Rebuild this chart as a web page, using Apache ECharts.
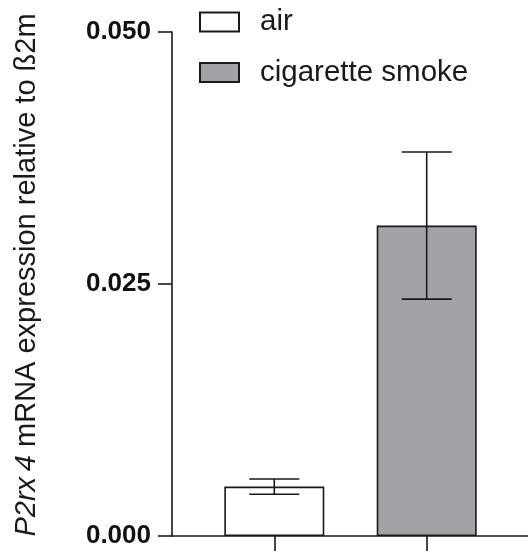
<!DOCTYPE html>
<html>
<head>
<meta charset="utf-8">
<script src="https://cdn.jsdelivr.net/npm/echarts@6/dist/echarts.min.js"></script>
<style>html,body{margin:0;padding:0;background:#fff}#c{width:528px;height:551px}</style>
</head>
<body>
<div id="c"></div>
<script>
var categories = ['air', 'cigarette smoke'];
var means = [0.0049, 0.0308];
var errors = [0.00076, 0.0073];
var yTicks = [0, 0.025, 0.05];

var colors = ['#ffffff', '#a3a2a7'];
var font = 'Liberation Sans, Arial, sans-serif';

var barSeries = categories.map(function (name, i) {
  return {
    name: name,
    type: 'bar',
    stack: 'g',
    barWidth: 100,
    xAxisIndex: 0, yAxisIndex: 0,
    itemStyle: { color: colors[i], borderColor: '#1a1a1a', borderWidth: 1.6 },
    data: categories.map(function (c, j) { return j === i ? means[j] : '-'; }),
    z: 2
  };
});

var errData = means.map(function (m, i) { return [i, m, errors[i]]; });

var chart = echarts.init(document.getElementById('c'));
chart.setOption({
  animation: false,
  backgroundColor: '#fff',
  textStyle: { fontFamily: font },
  grid: [
    { left: 198.1, right: 25.1, top: 32, bottom: 15 },
    { left: 172, right: 0, top: 32, bottom: 15 }
  ],
  legend: {
    orient: 'vertical',
    left: 194, top: 2,
    itemWidth: 39, itemHeight: 19,
    itemGap: 20.5,
    icon: 'rect',
    textStyle: { fontSize: 29.5, color: '#1a1a1a', fontFamily: font, padding: [0, 0, 0, 16] },
    data: categories
  },
  xAxis: [
    {
      type: 'category', gridIndex: 0, data: categories,
      axisLine: { show: false },
      axisTick: { show: true, alignWithLabel: true, length: 16, lineStyle: { color: '#1a1a1a', width: 1.6 } },
      axisLabel: { show: false }
    },
    {
      type: 'value', gridIndex: 1, min: 0, max: 1,
      axisLine: { show: true, onZero: false, lineStyle: { color: '#1a1a1a', width: 1.6 } },
      axisTick: { show: false }, axisLabel: { show: false }, splitLine: { show: false }
    }
  ],
  yAxis: [
    {
      type: 'value', gridIndex: 0, min: yTicks[0], max: yTicks[yTicks.length - 1], interval: 0.025,
      offset: 26.1,
      axisLine: { show: true, lineStyle: { color: '#1a1a1a', width: 1.6 } },
      axisTick: { show: true, length: 14, lineStyle: { color: '#1a1a1a', width: 1.6 } },
      splitLine: { show: false },
      axisLabel: {
        margin: 21, fontSize: 26, fontWeight: 'bold', color: '#111', fontFamily: font,
        formatter: function (v) { return v.toFixed(3); }
      },
      name: '{i|P2rx\u20094} mRNA expression relative to ß2m',
      nameLocation: 'middle',
      nameGap: 131,
      nameRotate: 90,
      nameTextStyle: {
        fontSize: 29, color: '#1a1a1a', fontFamily: font,
        padding: [0, 0, 0, 18],
        rich: { i: { fontStyle: 'italic', fontSize: 29, color: '#1a1a1a', fontFamily: font } }
      }
    },
    { type: 'value', gridIndex: 1, show: false, min: 0, max: 1 }
  ],
  series: barSeries.concat([{
    type: 'custom',
    xAxisIndex: 0, yAxisIndex: 0,
    z: 5,
    data: errData,
    renderItem: function (params, api) {
      var x = api.value(0), m = api.value(1), e = api.value(2);
      var top = api.coord([x, m + e]);
      var bot = api.coord([x, m - e]);
      var hw = 25;
      var st = { stroke: '#1a1a1a', lineWidth: 1.6 };
      return {
        type: 'group',
        children: [
          { type: 'line', shape: { x1: top[0], y1: top[1], x2: bot[0], y2: bot[1] }, style: st },
          { type: 'line', shape: { x1: top[0] - hw, y1: top[1], x2: top[0] + hw, y2: top[1] }, style: st },
          { type: 'line', shape: { x1: bot[0] - hw, y1: bot[1], x2: bot[0] + hw, y2: bot[1] }, style: st }
        ]
      };
    }
  }])
});
</script>
</body>
</html>
